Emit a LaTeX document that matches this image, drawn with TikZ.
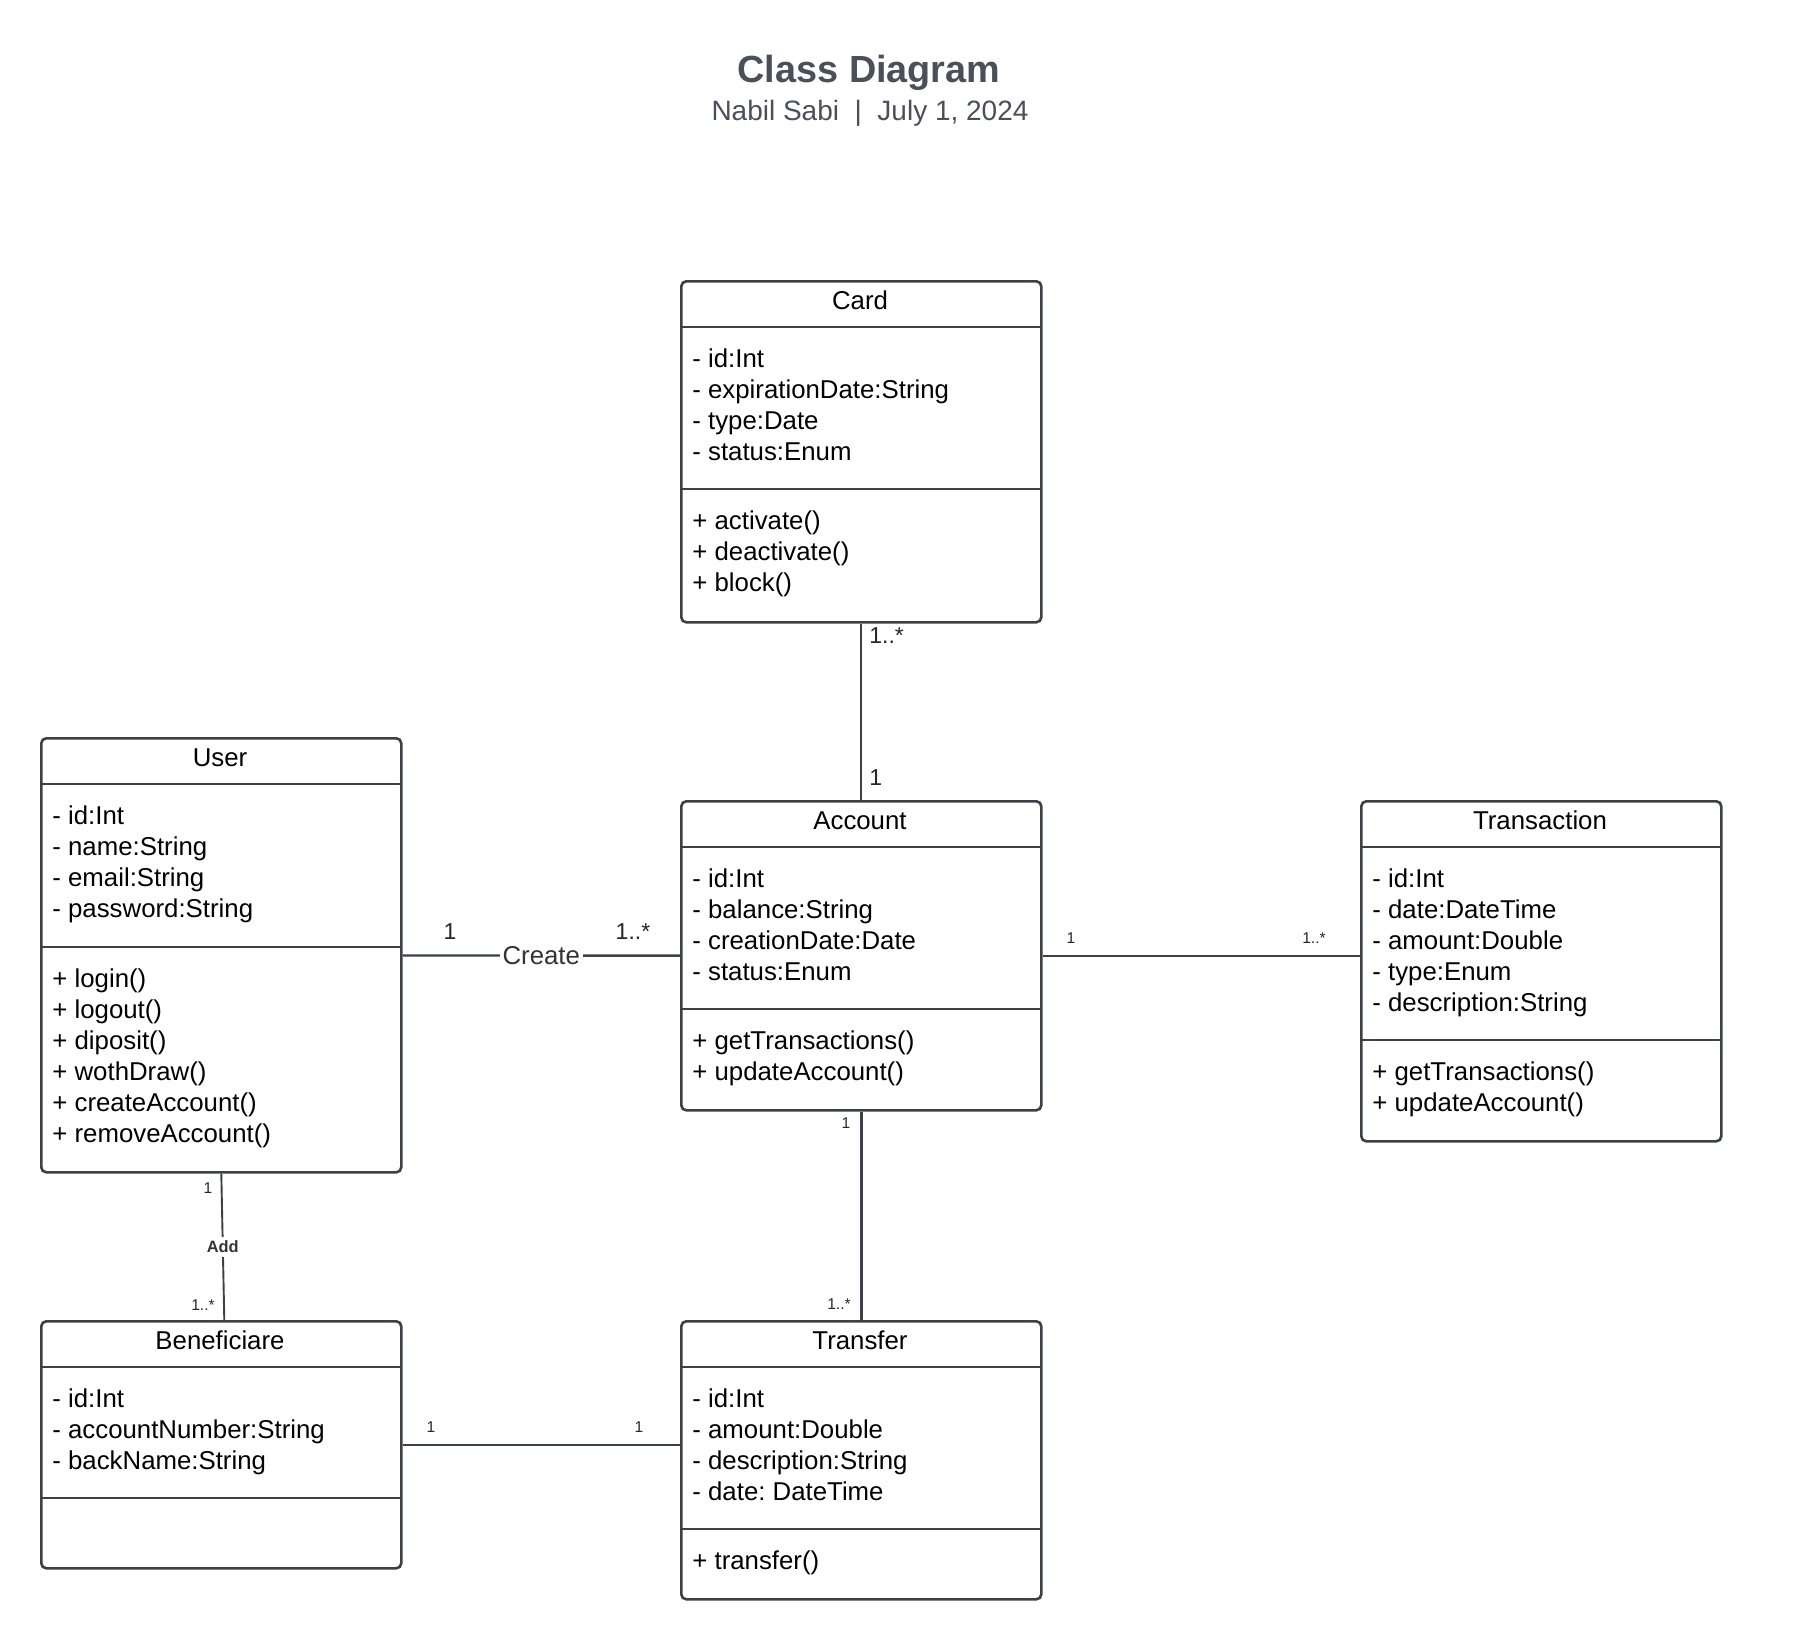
\documentclass[tikz,border=0pt]{standalone}
\usepackage{fontspec}
\setmainfont{Liberation Sans}
\frenchspacing
\definecolor{linegray}{HTML}{3C4048}
\definecolor{titlegray}{HTML}{4A505A}
\tikzset{
  umlframe/.style={draw=linegray, line width=1.3pt, rounded corners=2.5pt, anchor=north west, minimum width=180pt, inner sep=0pt},
  umlrule/.style={draw=linegray, line width=1.3pt},
  member/.style={anchor=base west, inner sep=0pt, font=\fontsize{12.9}{15}\selectfont},
  classname/.style={anchor=base, inner sep=0pt, font=\fontsize{12.9}{15}\selectfont},
  bigmult/.style={anchor=base, inner sep=0pt, text=black!85, font=\fontsize{11.5}{13}\selectfont},
  smallmult/.style={anchor=base, inner sep=0pt, text=black!85, font=\fontsize{7.8}{9}\selectfont},
  assoc/.style={draw=linegray, line width=1.2pt},
  thinassoc/.style={draw=linegray, line width=0.95pt},
  heading/.style={anchor=base, inner sep=0pt, text=titlegray, font=\bfseries\fontsize{18.9}{22}\selectfont},
  subheading/.style={anchor=base, inner sep=0pt, text=titlegray, font=\fontsize{14}{16}\selectfont}
}
\newcommand{\umlclass}[7]{\node[umlframe, minimum height={(#5-#3)*0.5pt}] (#1) at (#2,#3) {};
  \draw[umlrule] (#2,#3+47) -- ++(360,0) (#2,#4) -- ++(360,0);
  \node[classname] at (#2+180,#3+29) {#1};
  \foreach \m [count=\k from 0] in {#6} \node[member] at (#2+12,#3+87+31*\k) {\m};
  \foreach \m [count=\k from 0] in {#7} \node[member] at (#2+12,#4+40+31*\k) {\m};}

\begin{document}
\begin{tikzpicture}[x=0.5pt,y=-0.5pt]
    \fill[white] (0,0) rectangle (1800,1638);
    \node[heading] (title) at (869,82) {Class Diagram};
    \node[subheading] (subtitle) at (870,120) {Nabil Sabi\ \ |\ \ July 1, 2024};

    \umlclass{Card}{680}{280}{489}{621}{- id:Int, - expirationDate:String, - type:Date, - status:Enum}{+ activate(), + deactivate(), + block()}
    \umlclass{User}{40}{737}{947}{1171}{- id:Int, - name:String, - email:String, - password:String}{+ login(), + logout(), + diposit(), + wothDraw(), + createAccount(), + removeAccount()}
    \umlclass{Account}{680}{800}{1009}{1109}{- id:Int, - balance:String, - creationDate:Date, - status:Enum}{+ getTransactions(), + updateAccount()}
    \umlclass{Transaction}{1360}{800}{1040}{1140}{- id:Int, - date:DateTime, - amount:Double, - type:Enum, - description:String}{+ getTransactions(), + updateAccount()}
    \umlclass{Beneficiare}{40}{1320}{1498}{1567}{- id:Int, - accountNumber:String, - backName:String}{}
    \umlclass{Transfer}{680}{1320}{1529}{1598}{- id:Int, - amount:Double, - description:String, - date: DateTime}{+ transfer()}

    \draw[thinassoc] (Card) -- (Account);
    \draw[assoc] (User) -- node[fill=white, inner sep=1.5pt, text=black!80, font=\fontsize{12.9}{15}\selectfont] (create) {Create} (Account);
    \draw[assoc] (Account.east) -- (Account.east -| Transaction.west);
    \draw[assoc] (Account) -- (Transfer);
    \draw[assoc] (Beneficiare.east) -- (Beneficiare.east -| Transfer.west);
    \draw[thinassoc] (User.south) -- node[fill=white, inner sep=2pt, text=black!80, font=\bfseries\fontsize{8.2}{10}\selectfont] (add) {Add} ([xshift=1.5pt]Beneficiare.north);

    \node[bigmult, anchor=base west] at (869,643) {1..*}; \node[bigmult, anchor=base west] at (869,785) {1};
    \node[bigmult] at (450,939) {1}; \node[bigmult] at (633,939) {1..*};
    \node[smallmult] at (1071,943) {1}; \node[smallmult] at (1314,943) {1..*};
    \node[smallmult] at (846,1128) {1}; \node[smallmult] at (839,1309) {1..*};
    \node[smallmult] at (431,1432) {1}; \node[smallmult] at (639,1432) {1};
    \node[smallmult] at (208,1193) {1}; \node[smallmult] at (203,1310) {1..*};
\end{tikzpicture}
\end{document}
